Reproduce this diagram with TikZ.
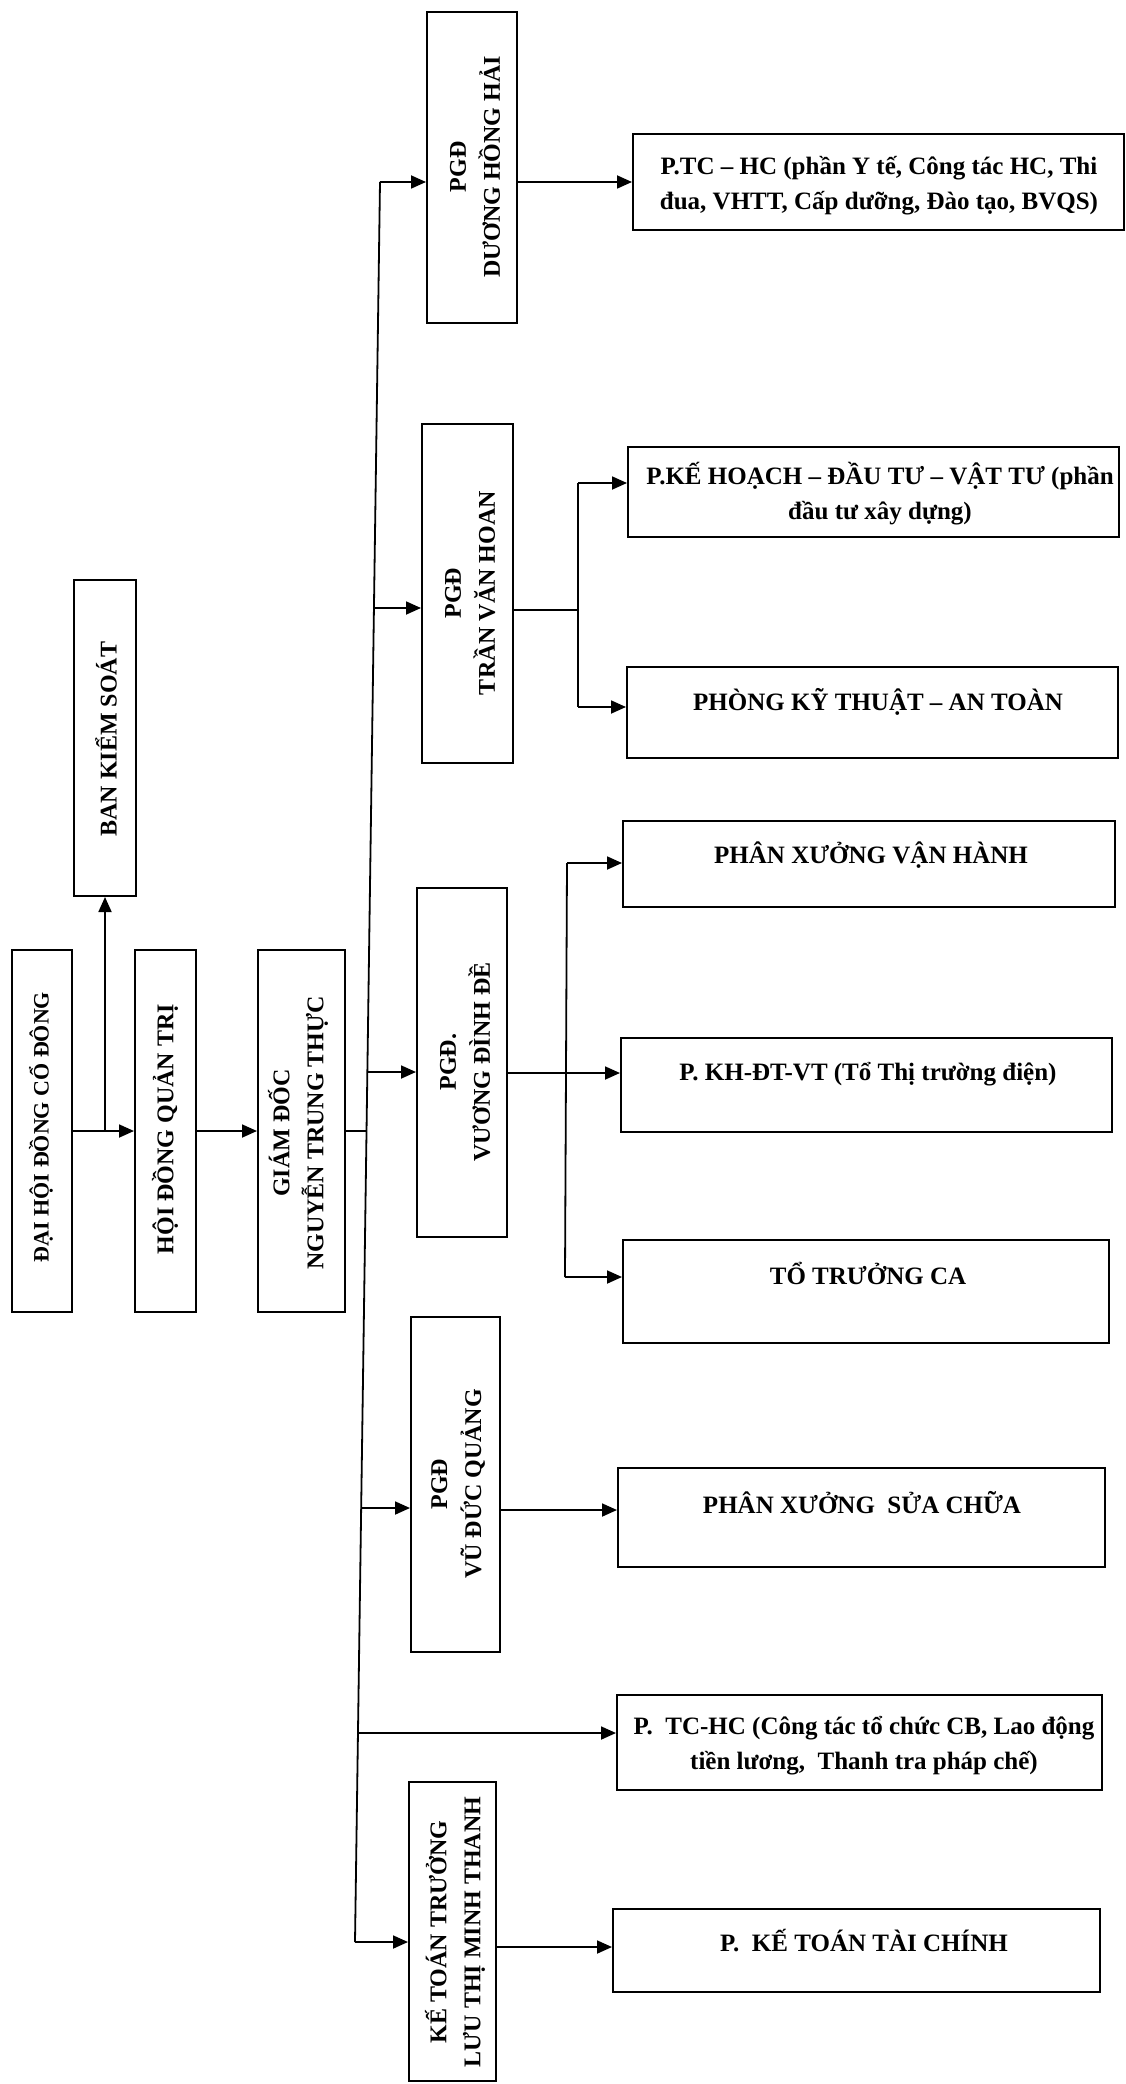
\documentclass[tikz,border=0pt]{standalone}
\usepackage{fontspec}
\setmainfont{Liberation Serif}
\usetikzlibrary{arrows.meta}
\begin{document}
\begin{tikzpicture}[x=1pt,y=-1pt,
  box/.style={draw, line width=2pt, inner sep=0pt, rectangle},
  vtxt/.style={rotate=90, align=center, inner sep=0pt, font=\bfseries\fontsize{24}{34}\selectfont},
  vtxts/.style={rotate=90, align=center, inner sep=0pt, font=\bfseries\fontsize{22}{32}\selectfont},
  htxt/.style={align=center, inner sep=0pt, font=\bfseries\fontsize{25}{35}\selectfont},
  conn/.style={line width=1.8pt},
  arr/.style={line width=1.8pt, -{Triangle[length=15pt,width=13pt]}}]
\fill[white] (0,0) rectangle (1126,2084);
\useasboundingbox (0,0) rectangle (1126,2084);

% left column
\node[box, minimum width=60pt, minimum height=362pt] (dh) at (42,1131) {};
\node[vtxts] (dh-t) at (41,1127) {ĐẠI HỘI ĐỒNG CỔ ĐÔNG};
\node[box, minimum width=62pt, minimum height=316pt] (bks) at (105,738) {};
\node[vtxt] (bks-t) at (106,739) {BAN KIỂM SOÁT};
\node[box, minimum width=61pt, minimum height=362pt] (hdqt) at (165.5,1131) {};
\node[vtxt] (hdqt-t) at (165,1129) {HỘI ĐỒNG QUẢN TRỊ};
\node[box, minimum width=87pt, minimum height=362pt] (gd) at (301.5,1131) {};
\node[vtxt] (gd-t) at (298,1133) {GIÁM ĐỐC\\NGUYỄN TRUNG THỰC};

% deputy directors
\node[box, minimum width=90pt, minimum height=311pt] (pgd1) at (472,167.5) {};
\node[vtxt] (pgd1-t) at (475,167) {PGĐ\\DƯƠNG HỒNG HẢI};
\node[box, minimum width=91pt, minimum height=339pt] (pgd2) at (467.5,593.5) {};
\node[vtxt] (pgd2-t) at (470,593) {PGĐ\\TRẦN VĂN HOAN};
\node[box, minimum width=90pt, minimum height=349pt] (pgd3) at (462,1062.5) {};
\node[vtxt] (pgd3-t) at (465,1062) {PGĐ.\\VƯƠNG ĐÌNH ĐỀ};
\node[box, minimum width=89pt, minimum height=335pt] (pgd4) at (455.5,1484.5) {};
\node[vtxt] (pgd4-t) at (458,1484) {PGĐ\\VŨ ĐỨC QUẢNG};
\node[box, minimum width=87pt, minimum height=299pt] (kt) at (452.5,1931.5) {};
\node[vtxt] (kt-t) at (455,1932) {KẾ TOÁN TRƯỞNG\\LƯU THỊ MINH THANH};

% departments
\node[box, minimum width=491pt, minimum height=96pt] (ptc1) at (878.5,182) {};
\node[htxt] (ptc1-t) at (879,186) {P.TC – HC (phần Y tế, Công tác HC, Thi\\đua, VHTT, Cấp dưỡng, Đào tạo, BVQS)};
\node[box, minimum width=491pt, minimum height=90pt] (pkh) at (873.5,492) {};
\node[htxt] (pkh-t) at (880,494) {P.KẾ HOẠCH – ĐẦU TƯ – VẬT TƯ (phần\\đầu tư xây dựng)};
\node[box, minimum width=491pt, minimum height=91pt] (pkt) at (872.5,712.5) {};
\node[htxt] (pkt-t) at (878,702) {PHÒNG KỸ THUẬT – AN TOÀN};
\node[box, minimum width=492pt, minimum height=86pt] (pxvh) at (869,864) {};
\node[htxt] (pxvh-t) at (871,855) {PHÂN XƯỞNG VẬN HÀNH};
\node[box, minimum width=491pt, minimum height=94pt] (pkhdt) at (866.5,1085) {};
\node[htxt] (pkhdt-t) at (868,1074) {P. KH-ĐT-VT (Tổ Thị trường điện)};
\node[box, minimum width=486pt, minimum height=103pt] (ttc) at (866,1291.5) {};
\node[htxt] (ttc-t) at (868,1273) {TỔ TRƯỞNG CA};
\node[box, minimum width=487pt, minimum height=99pt] (pxsc) at (861.5,1517.5) {};
\node[htxt] (pxsc-t) at (862,1503) {PHÂN XƯỞNG\ \ SỬA CHỮA};
\node[box, minimum width=485pt, minimum height=95pt] (ptc2) at (859.5,1742.5) {};
\node[htxt] (ptc2-t) at (864,1746) {P.\ \ TC-HC (Công tác tổ chức CB, Lao động\\tiền lương,\ \ Thanh tra pháp chế)};
\node[box, minimum width=487pt, minimum height=83pt] (pktc) at (856.5,1950.5) {};
\node[htxt] (pktc-t) at (864,1941) {P.\ \ KẾ TOÁN TÀI CHÍNH};

% left connectors
\coordinate (j1) at (105,1131);
\draw[arr] (dh.east) -- (hdqt.west);
\draw[arr] (j1) -- (bks.south);
\draw[arr] (hdqt.east) -- (gd.west);

% trunk
\coordinate (b1) at (380,182);
\coordinate (b2) at (374,608);
\coordinate (b3) at (367.5,1072);
\coordinate (bg) at (366.5,1131);
\coordinate (b4) at (361,1508);
\coordinate (b5) at (358,1733);
\coordinate (b6) at (355,1942);
\draw[conn] (gd.east) -- (bg);
\draw[conn] (b1) -- (b6);
\draw[arr] (b1) -- (b1 -| pgd1.west);
\draw[arr] (b2) -- (b2 -| pgd2.west);
\draw[arr] (b3) -- (b3 -| pgd3.west);
\draw[arr] (b4) -- (b4 -| pgd4.west);
\draw[arr] (b5) -- (b5 -| ptc2.west);
\draw[arr] (b6) -- (b6 -| kt.west);

% PGD 1
\draw[arr] (pgd1.east |- b1) -- (ptc1.west |- b1);

% PGD 2
\coordinate (c2) at (578,610);
\coordinate (c2a) at (578,483);
\coordinate (c2b) at (578,707);
\draw[conn] (pgd2.east |- c2) -- (c2);
\draw[conn] (c2a) -- (c2b);
\draw[arr] (c2a) -- (c2a -| pkh.west);
\draw[arr] (c2b) -- (c2b -| pkt.west);

% PGD 3
\coordinate (c3a) at (567,863);
\coordinate (c3b) at (565,1277);
\coordinate (c3m) at (566,1073);
\draw[conn] (c3a) -- (c3b);
\draw[arr] (c3a) -- (c3a -| pxvh.west);
\draw[arr] (c3b) -- (c3b -| ttc.west);
\draw[arr] (pgd3.east |- c3m) -- (pkhdt.west |- c3m);

% PGD 4
\coordinate (c4) at (560,1510);
\draw[arr] (pgd4.east |- c4) -- (pxsc.west |- c4);

% Ke toan
\coordinate (c5) at (550,1947);
\draw[arr] (kt.east |- c5) -- (pktc.west |- c5);
\end{tikzpicture}
\end{document}
